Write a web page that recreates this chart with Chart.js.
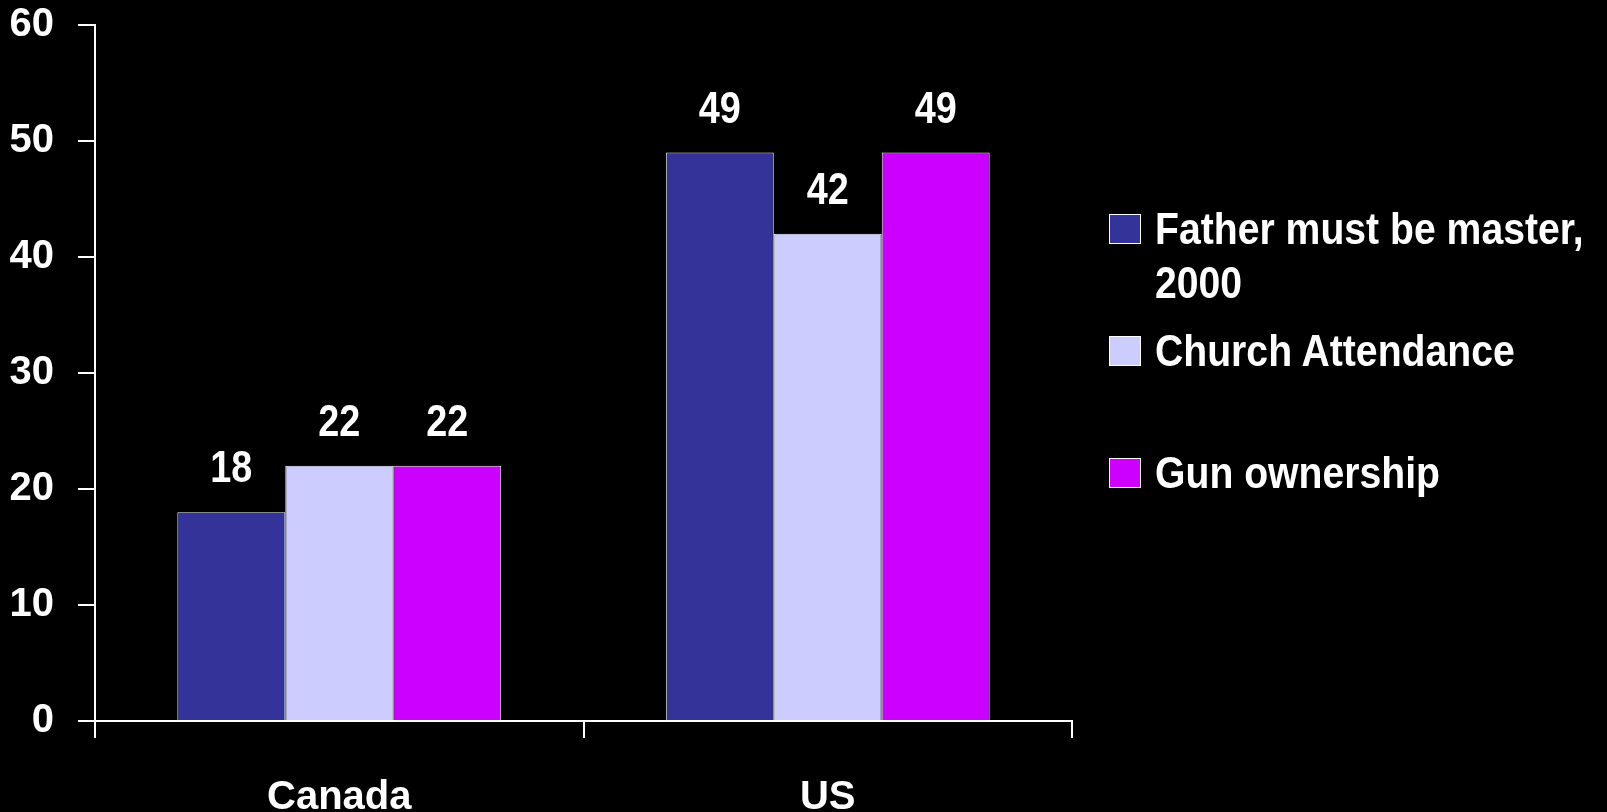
<!DOCTYPE html>
<html>
<head>
<meta charset="utf-8">
<script src="https://cdn.jsdelivr.net/npm/chart.js@4.4.1/dist/chart.umd.min.js"></script>
<style>
    body { margin: 0; background: #000; }
    #wrap { position: relative; width: 1607px; height: 812px; }
    #legend {
        position: absolute; left: 1109px; top: 202px; width: 498px;
        font-family: "Liberation Sans", Arial, sans-serif;
        font-weight: bold; font-size: 44px; line-height: 54px; color: #fff;
    }
    .legend-item { display: flex; height: 122px; }
    .legend-box { flex: none; width: 30px; height: 28px; border: 1px solid #fff; margin: 12px 14px 0 0; }
    .legend-text { flex: none; width: 505px; transform: scaleX(0.89); transform-origin: 0 0; }
</style>
</head>
<body>
<div id="wrap">
    <canvas id="chart"></canvas>
    <div id="legend"></div>
</div>
<script>
const categories = ['Canada', 'US'];
const seriesNames = ['Father must be master, 2000', 'Church Attendance', 'Gun ownership'];
const fatherMaster = [18, 49];
const churchAttendance = [22, 42];
const gunOwnership = [22, 49];
const yTicks = [0, 10, 20, 30, 40, 50, 60];

const seriesColors = ['#333399', '#CCCCFF', '#CC00FF'];
const fontFamily = '"Liberation Sans", Arial, sans-serif';

// numbers above the bars (squeezed a bit, the original font is a narrow one)
const valueLabels = {
    id: 'valueLabels',
    afterDatasetsDraw(chart) {
        const ctx = chart.ctx;
        chart.data.datasets.forEach((ds, i) => {
            chart.getDatasetMeta(i).data.forEach((bar, j) => {
                ctx.save();
                ctx.translate(bar.x, bar.y - 30);
                ctx.scale(0.84, 1);
                ctx.fillStyle = '#fff';
                ctx.font = 'bold 45px ' + fontFamily;
                ctx.textAlign = 'center';
                ctx.textBaseline = 'alphabetic';
                ctx.fillText(ds.data[j], 0, 0);
                ctx.restore();
            });
        });
    }
};

const makeDataset = (label, data, color) => ({
    label: label,
    data: data,
    backgroundColor: color,
    borderColor: '#f0f0f0',
    borderWidth: 1,
    barPercentage: 1,
    categoryPercentage: 0.663
});

const chart = new Chart(document.getElementById('chart'), {
    type: 'bar',
    data: {
        labels: categories,
        datasets: [
            makeDataset(seriesNames[0], fatherMaster, seriesColors[0]),
            makeDataset(seriesNames[1], churchAttendance, seriesColors[1]),
            makeDataset(seriesNames[2], gunOwnership, seriesColors[2])
        ]
    },
    options: {
        responsive: true,
        maintainAspectRatio: false,
        animation: false,
        layout: { padding: { top: 25, right: 535, left: 0, bottom: 0 } },
        plugins: {
            legend: { display: false },
            tooltip: { enabled: false }
        },
        scales: {
            x: {
                afterFit: scale => {
                    scale.height = 91;
                    scale.paddingLeft = 0;
                    scale.paddingRight = 0;
                },
                border: { color: '#fff', width: 2 },
                grid: { drawOnChartArea: false, drawTicks: true, tickLength: 17, color: '#fff', lineWidth: 2 },
                ticks: {
                    color: '#fff',
                    padding: 36,
                    font: { family: fontFamily, size: 40, weight: 'bold' }
                }
            },
            y: {
                min: yTicks[0],
                max: yTicks[yTicks.length - 1],
                afterFit: scale => {
                    scale.width = 95;
                    scale.paddingTop = 0;
                    scale.paddingBottom = 0;
                },
                afterBuildTicks: scale => { scale.ticks = yTicks.map(v => ({ value: v })) },
                border: { color: '#fff', width: 2 },
                grid: { drawOnChartArea: false, drawTicks: true, tickLength: 17, color: '#fff', lineWidth: 2 },
                ticks: {
                    color: '#fff',
                    padding: 24,
                    font: { family: fontFamily, size: 40, weight: 'bold' }
                }
            }
        }
    },
    plugins: [valueLabels]
});

const legendEl = document.getElementById('legend');
chart.data.datasets.forEach(ds => {
    const item = document.createElement('div');
    item.className = 'legend-item';
    const box = document.createElement('div');
    box.className = 'legend-box';
    box.style.background = ds.backgroundColor;
    const text = document.createElement('div');
    text.className = 'legend-text';
    text.textContent = ds.label;
    item.appendChild(box);
    item.appendChild(text);
    legendEl.appendChild(item);
});
</script>
</body>
</html>
